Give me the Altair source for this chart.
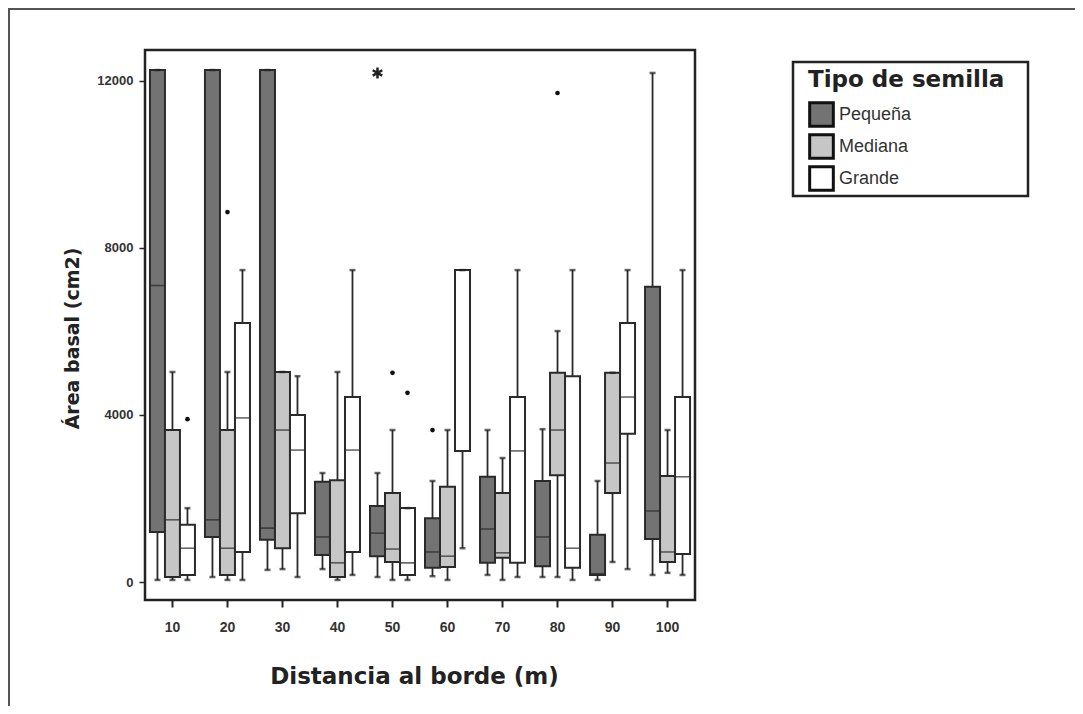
import altair as alt
import pandas as pd

distances = ["10", "20", "30", "40", "50", "60", "70", "80", "90", "100"]
tipos = ["Pequeña", "Mediana", "Grande"]

# lower whisker, Q1, median, Q3, upper whisker
peq_wlo = [50, 120, 290, 310, 120, 140, 170, 120, 50, 170]
peq_q1 = [1200, 1080, 1010, 650, 620, 340, 460, 380, 170, 1030]
peq_med = [7100, 1490, 1290, 1080, 1170, 720, 1270, 1080, 200, 1700]
peq_q3 = [12260, 12260, 12260, 2400, 1820, 1530, 2520, 2420, 1130, 7070]
peq_whi = [12260, 12260, 12260, 2610, 2610, 2420, 3640, 3660, 2420, 12190]

med_wlo = [50, 50, 310, 50, 50, 50, 50, 120, 480, 220]
med_q1 = [120, 170, 810, 120, 480, 360, 580, 2560, 2130, 480]
med_med = [1490, 810, 3640, 460, 790, 620, 700, 3640, 2850, 720]
med_q3 = [3640, 3640, 5030, 2440, 2130, 2280, 2130, 5010, 5010, 2540]
med_whi = [5030, 5030, 5030, 5030, 3640, 3640, 2970, 6010, 5010, 3640]

gra_wlo = [50, 50, 120, 170, 50, 810, 120, 50, 310, 170]
gra_q1 = [170, 720, 1650, 720, 170, 3140, 460, 340, 3550, 670]
gra_med = [810, 3930, 3160, 3160, 460, 7470, 3140, 810, 4430, 2520]
gra_q3 = [1370, 6200, 4000, 4430, 1770, 7470, 4430, 4930, 6200, 4430]
gra_whi = [1770, 7470, 4930, 7470, 1770, 7470, 7470, 7470, 7470, 7470]

out_dist = ["10", "20", "50", "50", "60", "80"]
out_tipo = ["Grande", "Mediana", "Mediana", "Grande", "Pequeña", "Mediana"]
out_val = [3900, 8860, 5010, 4530, 3640, 11710]

ext_dist = ["50"]
ext_tipo = ["Pequeña"]
ext_val = [12190]

fill_colors = ["#737373", "#c6c6c6", "#ffffff"]

rows = []
series = {
    "Pequeña": (peq_wlo, peq_q1, peq_med, peq_q3, peq_whi),
    "Mediana": (med_wlo, med_q1, med_med, med_q3, med_whi),
    "Grande": (gra_wlo, gra_q1, gra_med, gra_q3, gra_whi),
}
for t in tipos:
    wlo, q1, md, q3, whi = series[t]
    for i, d in enumerate(distances):
        rows.append({"dist": d, "tipo": t, "wlo": wlo[i], "q1": q1[i],
                     "med": md[i], "q3": q3[i], "whi": whi[i]})
df = pd.DataFrame(rows)
df_out = pd.DataFrame({"dist": out_dist, "tipo": out_tipo, "val": out_val})
df_ext = pd.DataFrame({"dist": ext_dist, "tipo": ext_tipo, "val": ext_val})

xenc = alt.X(
    "dist:N", sort=distances,
    scale=alt.Scale(domain=distances, paddingInner=10 / 55, paddingOuter=0.09),
    axis=alt.Axis(
        title="Distancia al borde (m)", labelAngle=0, domain=False,
        tickSize=7, tickWidth=2, tickColor="#222",
        labelFont="Liberation Sans", labelFontSize=14, labelFontWeight="bold",
        labelColor="#333", labelPadding=13,
        titleFont="DejaVu Sans", titleFontSize=23, titleFontWeight="bold",
        titleColor="#222", titleX=269, titleY=76, titleBaseline="middle",
        titleAlign="center",
    ),
)
xoff = alt.XOffset("tipo:N", sort=tipos,
                   scale=alt.Scale(domain=tipos, paddingInner=0, paddingOuter=0))

yscale = alt.Scale(domain=[-430, 12740], nice=False, zero=False)
yaxis = alt.Axis(
    title="Área basal (cm2)", values=[0, 4000, 8000, 12000], format="d",
    grid=False, domain=False, tickSize=6, tickWidth=1.5, tickColor="#222",
    labelFont="Liberation Sans", labelFontSize=13, labelFontWeight="bold",
    labelColor="#333", labelPadding=6,
    titleFont="DejaVu Sans", titleFontSize=19, titleFontWeight="bold",
    titleColor="#222", titleX=-73, titleY=288, titleBaseline="middle",
    titleAlign="center", titleAngle=-90,
)

base = alt.Chart(df)

whisker = base.mark_rule(color="#2a2a2a", strokeWidth=1.8).encode(
    x=xenc, xOffset=xoff, y=alt.Y("wlo:Q", scale=yscale, axis=yaxis), y2="whi:Q"
)
box = base.mark_bar(stroke="#2a2a2a", strokeWidth=2).encode(
    x=xenc, xOffset=xoff,
    y=alt.Y("q1:Q", scale=yscale, axis=yaxis), y2="q3:Q",
    fill=alt.Fill(
        "tipo:N", sort=tipos,
        scale=alt.Scale(domain=tipos, range=fill_colors),
        legend=alt.Legend(
            title="Tipo de semilla", orient="none", legendX=663, legendY=19,
            symbolType="square", symbolSize=560, symbolStrokeColor="#111",
            symbolStrokeWidth=3, labelFont="Liberation Sans", labelFontSize=18,
            labelColor="#333", titleFont="DejaVu Sans", titleFontSize=23,
            titleFontWeight="bold", titleColor="#222", titleLimit=400,
            rowPadding=-9, labelOffset=4, titlePadding=9, padding=0,
        ),
    ),
)
median = base.mark_tick(color="#2a2a2a", thickness=1.6, size=14).encode(
    x=xenc, xOffset=xoff, y=alt.Y("med:Q", scale=yscale, axis=yaxis)
)
cap_lo = base.mark_tick(color="#222", thickness=2.5, size=6).encode(
    x=xenc, xOffset=xoff, y=alt.Y("wlo:Q", scale=yscale, axis=yaxis)
)
cap_hi = base.mark_tick(color="#222", thickness=2.5, size=6).encode(
    x=xenc, xOffset=xoff, y=alt.Y("whi:Q", scale=yscale, axis=yaxis)
)
outliers = alt.Chart(df_out).mark_circle(size=22, color="#111", opacity=1).encode(
    x=xenc, xOffset=xoff, y=alt.Y("val:Q", scale=yscale, axis=yaxis)
)
extreme = alt.Chart(df_ext).mark_point(
    shape="M0,-1L0,1M-0.87,-0.5L0.87,0.5M-0.87,0.5L0.87,-0.5",
    size=120, filled=False, strokeWidth=2.5, color="#222", opacity=1,
).encode(x=xenc, xOffset=xoff, y=alt.Y("val:Q", scale=yscale, axis=yaxis))

one = pd.DataFrame({"a": [0]})
frame = alt.Chart(one).mark_rect(
    filled=False, stroke="#555", strokeWidth=2
).encode(x=alt.value(-136), x2=alt.value(1000), y=alt.value(-41), y2=alt.value(720))
legend_box = alt.Chart(one).mark_rect(
    filled=False, stroke="#222", strokeWidth=2.5
).encode(x=alt.value(648), x2=alt.value(883), y=alt.value(12), y2=alt.value(146))

chart = alt.layer(
    frame, legend_box, whisker, box, median, cap_lo, cap_hi, outliers, extreme
).properties(
    width=550, height=550,
    autosize=alt.AutoSizeParams(type="none"),
    padding={"left": 137, "top": 42, "right": 380, "bottom": 106},
).configure_view(
    stroke="#222", strokeWidth=2.5
)

chart.save("out.html", embed_options={"renderer": "svg", "actions": False})
